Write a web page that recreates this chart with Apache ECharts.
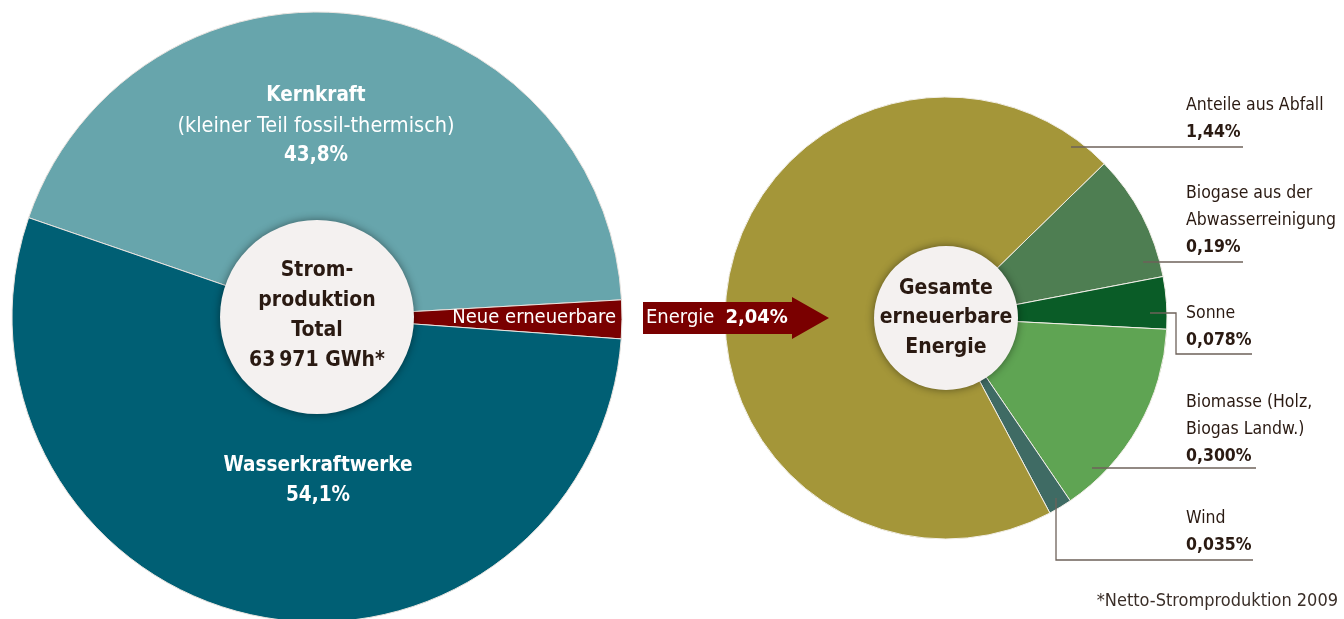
<!DOCTYPE html>
<html>
<head>
<meta charset="utf-8">
<script src="https://cdn.jsdelivr.net/npm/echarts@6/dist/echarts.min.js"></script>
<style>
  html, body { margin: 0; padding: 0; background: #fff; }
  #main { width: 1344px; height: 619px; }
</style>
</head>
<body>
<div id="main"></div>
<script>
// Stromproduktion Schweiz 2009, Anteile in %
var totalNames = ['Kernkraft', 'Neue erneuerbare', 'Wasserkraftwerke'];
var totalNotes = ['(kleiner Teil fossil-thermisch)', '', ''];
var totalValues = [43.8, 2.04, 54.1];
var totalLabels = ['43,8%', '2,04%', '54,1%'];

// Aufteilung der neuen erneuerbaren Energien
var renewNames = ['Biogase aus der\nAbwasserreinigung', 'Sonne', 'Biomasse (Holz,\nBiogas Landw.)', 'Wind', 'Anteile aus Abfall'];
var renewValues = [0.19, 0.078, 0.300, 0.035, 1.44];
var renewLabels = ['0,19%', '0,078%', '0,300%', '0,035%', '1,44%'];

var FONT = "'Liberation Sans Narrow', 'DejaVu Sans Condensed', Roboto, sans-serif";
var DARK = '#2a1a12';
var LINE = '#6e625a';

var chart = echarts.init(document.getElementById('main'));

// label spots (top edge of each text block)
var leftSpots = [
  { x: 316, y: 81, align: 'center', verticalAlign: 'top' },
  { x: 616, y: 318, align: 'right', verticalAlign: 'middle' },
  { x: 318, y: 451, align: 'center', verticalAlign: 'top' }
];
var rightTops = [179.5, 299.5, 388.5, 504.5, 91.5];

var leaders = [
  [[1143, 262], [1243, 262]],
  [[1150, 313], [1176, 313], [1176, 354], [1252, 354]],
  [[1092, 468], [1256, 468]],
  [[1056, 498], [1056, 560], [1253, 560]],
  [[1071, 147], [1243, 147]]
];

var graphics = [
  {
    type: 'circle', z: 100,
    shape: { cx: 317, cy: 317, r: 97 },
    style: { fill: '#f4f1f0', shadowBlur: 8, shadowColor: 'rgba(0,0,0,0.45)' }
  },
  {
    type: 'text', z: 101, x: 317, y: 316,
    style: {
      text: 'Strom-\nproduktion\nTotal\n63\u2009971 GWh*',
      font: 'bold 21px ' + FONT, fill: DARK, align: 'center', verticalAlign: 'middle', lineHeight: 30
    }
  },
  {
    type: 'circle', z: 100,
    shape: { cx: 946, cy: 318, r: 72 },
    style: { fill: '#f4f1f0', shadowBlur: 8, shadowColor: 'rgba(0,0,0,0.45)' }
  },
  {
    type: 'text', z: 101, x: 946, y: 318,
    style: {
      text: 'Gesamte\nerneuerbare\nEnergie',
      font: 'bold 21px ' + FONT, fill: DARK, align: 'center', verticalAlign: 'middle', lineHeight: 29.5
    }
  },
  {
    type: 'polygon', z: 100,
    shape: { points: [[643, 302], [792, 302], [792, 297], [829, 318], [792, 339], [792, 334], [643, 334]] },
    style: { fill: '#7a0000' }
  },
  {
    type: 'text', z: 101, x: 646, y: 318,
    style: {
      text: '{r|Energie}{b|' + totalLabels[1] + '}',
      verticalAlign: 'middle', align: 'left',
      rich: {
        r: { font: '20px ' + FONT, fill: '#fff', padding: [0, 11, 0, 0] },
        b: { font: 'bold 20px ' + FONT, fill: '#fff' }
      }
    }
  },
  {
    type: 'text', z: 101, x: 1338, y: 601,
    style: { text: '*Netto-Stromproduktion 2009', font: '18px ' + FONT, fill: '#3a2e28', align: 'right', verticalAlign: 'middle' }
  }
];
leaders.forEach(function (pts) {
  graphics.push({
    type: 'polyline', z: 100,
    shape: { points: pts },
    style: { stroke: LINE, lineWidth: 1.3, fill: null }
  });
});

var option = {
  animation: false,
  backgroundColor: '#ffffff',
  series: [
    {
      type: 'pie',
      center: [317, 317],
      radius: [0, 305],
      startAngle: 161,
      clockwise: true,
      avoidLabelOverlap: false,
      minShowLabelAngle: 0,
      color: ['#67a5ac', '#7a0000', '#005f74'],
      itemStyle: { borderColor: '#e9e4e0', borderWidth: 1 },
      label: {
        show: true,
        position: 'inside',
        color: '#fff',
        fontFamily: FONT,
        formatter: function (p) {
          var i = p.dataIndex;
          if (i === 1) return '{r|' + totalNames[i] + '}';
          var s = '{b|' + totalNames[i] + '}';
          if (totalNotes[i]) s += '\n{n|' + totalNotes[i] + '}';
          return s + '\n{b|' + totalLabels[i] + '}';
        },
        rich: {
          b: { fontFamily: FONT, fontWeight: 'bold', fontSize: 20.5, color: '#fff', lineHeight: 30 },
          n: { fontFamily: FONT, fontSize: 21.5, color: '#fff', lineHeight: 30 },
          r: { fontFamily: FONT, fontSize: 20, color: '#fff' }
        }
      },
      labelLine: { show: false },
      labelLayout: function (p) {
        return leftSpots[p.dataIndex];
      },
      emphasis: { disabled: true },
      data: totalNames.map(function (n, i) { return { name: n, value: totalValues[i] }; })
    },
    {
      type: 'pie',
      center: [946, 318],
      radius: [0, 221],
      startAngle: 44.3,
      clockwise: true,
      avoidLabelOverlap: false,
      minShowLabelAngle: 0,
      color: ['#4e7e52', '#0a5c27', '#5fa453', '#3f6b64', '#a49639'],
      itemStyle: { borderColor: '#f2efe8', borderWidth: 1 },
      label: {
        show: true,
        position: 'outside',
        fontFamily: FONT,
        formatter: function (p) {
          var i = p.dataIndex;
          var lines = renewNames[i].split('\n').map(function (t) { return '{n|' + t + '}'; });
          return lines.join('\n') + '\n{b|' + renewLabels[i] + '}';
        },
        rich: {
          n: { fontFamily: FONT, fontSize: 17.5, color: DARK, lineHeight: 27 },
          b: { fontFamily: FONT, fontSize: 17.5, fontWeight: 'bold', color: DARK, lineHeight: 27 }
        }
      },
      labelLine: { show: false },
      labelLayout: function (p) {
        return { x: 1186, y: rightTops[p.dataIndex], align: 'left', verticalAlign: 'top' };
      },
      emphasis: { disabled: true },
      data: renewNames.map(function (n, i) { return { name: n, value: renewValues[i] }; })
    }
  ],
  graphic: graphics
};
chart.setOption(option);
</script>
</body>
</html>
